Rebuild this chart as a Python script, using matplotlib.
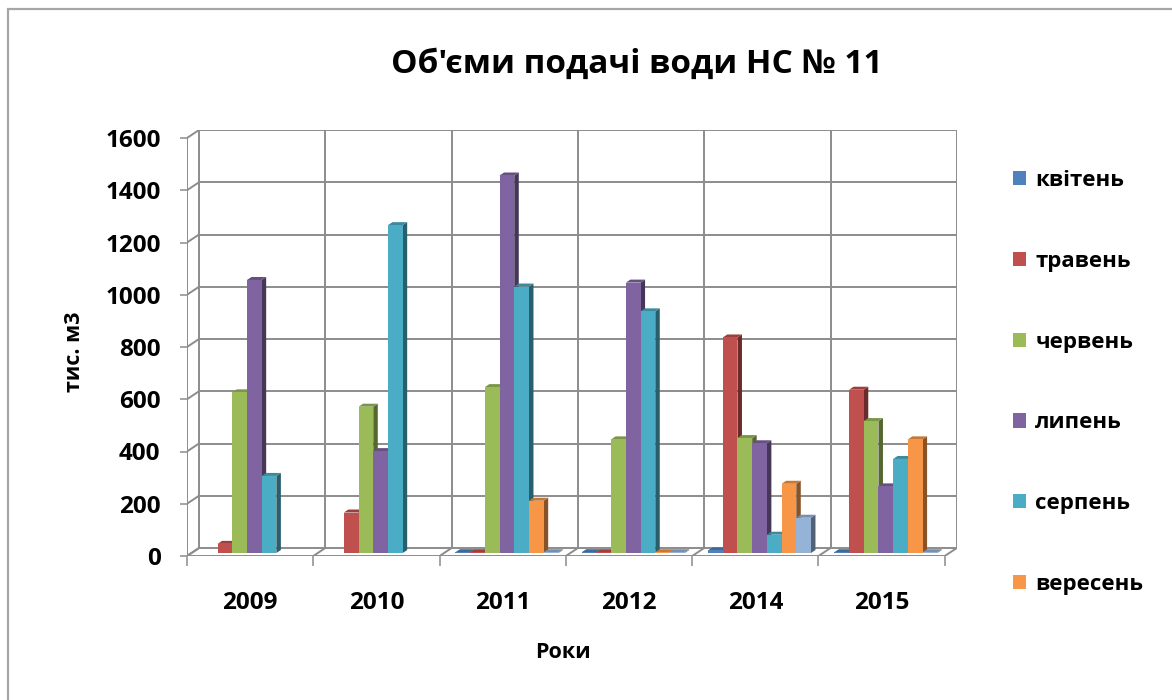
import numpy as np
import matplotlib
matplotlib.use("Agg")
import matplotlib.pyplot as plt
import matplotlib.colors as mcolors
from matplotlib.patches import Polygon, Rectangle, Patch

plt.rcParams["font.family"] = ["Open Sans", "DejaVu Sans"]

# ----- data (тис. м3) -----
years = ["2009", "2010", "2011", "2012", "2014", "2015"]
months = ["квітень", "травень", "червень", "липень", "серпень", "вересень"]
nan = np.nan
kviten = [nan, nan, 0, 0, 10, 0]
traven = [35, 155, 0, 0, 825, 625]
cherven = [615, 560, 635, 435, 440, 505]
lypen = [1045, 390, 1445, 1035, 420, 255]
serpen = [295, 1255, 1020, 925, 70, 360]
veresen = [nan, nan, 200, 0, 265, 435]
extra = [nan, nan, 0, 0, 135, 0]      # 7th column, no legend entry

series = [kviten, traven, cherven, lypen, serpen, veresen, extra]
colors = ["#4F81BD", "#C0504D", "#9BBB59", "#8064A2", "#4BACC6", "#F79646", "#95B3D7"]

# ----- pixel geometry of the pseudo-3D box -----
W, H = 1172, 700
X0, Y0 = 187, 556            # front-left-bottom corner
UX = 126.3                   # px per category
UY = 418 / 1600              # px per unit
DX, DY = 12, 8               # depth of the walls, px
YMAX = 1600

ddx, ddy = DX / UX, DY / UY  # depth in data units
n_cat = len(years)

fig = plt.figure(figsize=(W / 100, H / 100), dpi=100)
ax = fig.add_axes([X0 / W, (H - Y0) / H,
                   (n_cat * UX + DX) / W, (YMAX * UY + DY) / H])
ax.set_xlim(0, n_cat + ddx)
ax.set_ylim(0, YMAX + ddy)
ax.patch.set_alpha(0)
for s in ax.spines.values():
    s.set_visible(False)

gc, glw = "#8C8C8C", 1.4
levels = np.arange(0, YMAX + 1, 200)

# back wall
for v in levels:
    ax.plot([ddx, n_cat + ddx], [v + ddy, v + ddy], color=gc, lw=glw, zorder=1)
for k in range(n_cat + 1):
    ax.plot([k + ddx, k + ddx], [ddy, YMAX + ddy], color=gc, lw=glw, zorder=1)
# left wall
for v in levels:
    ax.plot([0, ddx], [v, v + ddy], color=gc, lw=glw, zorder=1)
ax.plot([0, 0], [0, YMAX], color=gc, lw=glw, zorder=1)
# floor
ax.plot([0, n_cat], [0, 0], color=gc, lw=glw, zorder=1)
for k in range(n_cat + 1):
    ax.plot([k, k + ddx], [0, ddy], color=gc, lw=glw, zorder=1)

# bars: front face via ax.bar, side and top as polygons
BW = 0.1164
OFF = 0.09
f0, f1 = 0.375, 0.75
ex, ey = (f1 - f0) * ddx, (f1 - f0) * ddy
idx = np.arange(n_cat)
for i, (vals, c) in enumerate(zip(series, colors)):
    vals = np.asarray(vals, float)
    ok = ~np.isnan(vals)
    h = np.maximum(vals[ok], 3)
    xl = idx[ok] + OFF + i * BW + f0 * ddx
    yb = f0 * ddy
    z = 3 + i * 0.1
    rgb = np.array(mcolors.to_rgb(c))
    side_c = rgb * 0.55
    top_c = rgb * 0.8
    for x, hh in zip(xl, h):
        xr = x + BW
        ax.add_patch(Polygon([(xr, yb), (xr, yb + hh), (xr + ex, yb + hh + ey),
                              (xr + ex, yb + ey)], closed=True,
                             facecolor=side_c, edgecolor="none", zorder=z))
        ax.add_patch(Polygon([(x, yb + hh), (xr, yb + hh), (xr + ex, yb + hh + ey),
                              (x + ex, yb + hh + ey)], closed=True,
                             facecolor=top_c, edgecolor="none", zorder=z))
    ax.bar(xl, h, width=BW, bottom=yb, align="edge", color=c,
           edgecolor="none", zorder=z + 0.05)

# ticks
ax.set_yticks(levels)
ax.set_yticklabels([str(v) for v in levels])
ax.tick_params(axis="y", length=5, width=1.1, color=gc, pad=14,
               labelsize=17.5, direction="out")
for t in ax.get_yticklabels():
    t.set_fontweight("bold")
ax.set_xticks(idx + 0.5)
ax.set_xticklabels(years)
ax.set_xticks(np.arange(n_cat + 1), minor=True)
ax.tick_params(axis="x", which="major", length=0, pad=25, labelsize=17.5)
ax.tick_params(axis="x", which="minor", length=7, width=1.1, color=gc)
for t in ax.get_xticklabels():
    t.set_fontweight("bold")

# titles
fig.text(637 / W, 1 - 73 / H, "Об'єми подачі води НС № 11", ha="center",
         va="baseline", fontsize=24, fontweight="bold")
fig.text(563 / W, 1 - 652 / H, "Роки", ha="center", va="center",
         fontsize=15.5, fontweight="bold")
fig.text(74 / W, 1 - 352 / H, "тис. м3", ha="center", va="center",
         rotation=90, fontsize=15.5, fontweight="bold")

# legend (six named months)
handles = [Patch(facecolor=c, edgecolor="none") for c in colors[:6]]
fig.legend(handles, months, loc="upper left",
           bbox_to_anchor=(1013 / W, 1 - 170 / H), frameon=False,
           prop=dict(size=16, weight="bold"), handlelength=0.6,
           handleheight=0.6, handletextpad=0.4, labelspacing=2.69,
           borderpad=0, borderaxespad=0)

# chart border
fig.add_artist(Rectangle((8 / W, -0.1), 1.2, 1.1 - 9 / H, transform=fig.transFigure,
                         fill=False, edgecolor="#A6A6A6", lw=1.6))

fig.savefig("out.png", dpi=100)
